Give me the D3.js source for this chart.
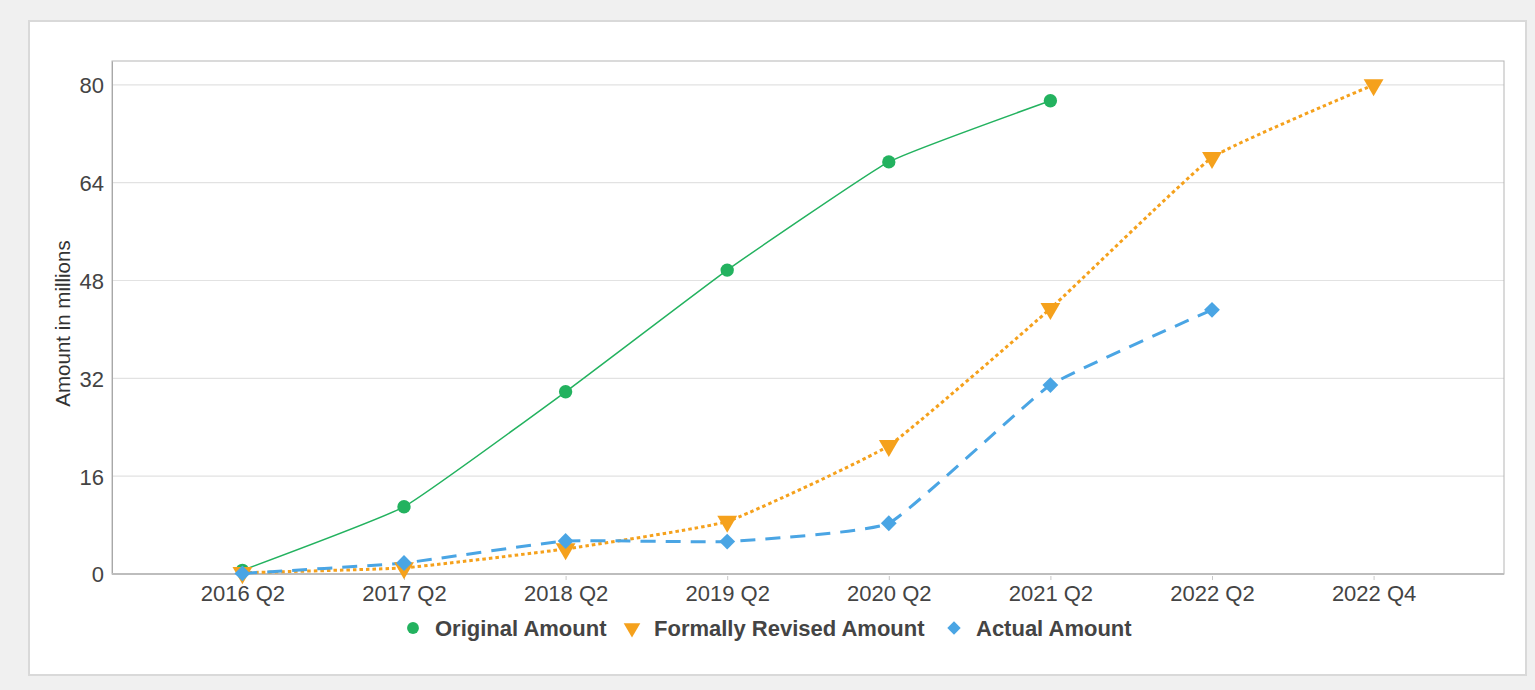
<!DOCTYPE html>
<html><head><meta charset="utf-8">
<script src="https://cdn.jsdelivr.net/npm/d3@7"></script>
<style>
html,body{margin:0;padding:0;background:#f0f0f0;}
svg{display:block;font-family:"Liberation Sans",Arial,sans-serif;}
</style></head>
<body><svg id="c" width="1535" height="690"></svg>
<script>
const categories = ["2016 Q2","2017 Q2","2018 Q2","2019 Q2","2020 Q2","2021 Q2","2022 Q2","2022 Q4"];
const original = [0.6, 11.0, 29.8, 49.7, 67.4, 77.4, null, null];
const revised  = [0.2, 1.0, 4.1, 8.6, 21.0, 43.4, 68.1, 80.0];
const actual   = [0.1, 1.8, 5.4, 5.3, 8.3, 30.9, 43.2, null];
const yTicks = [0, 16, 32, 48, 64, 80];
const seriesNames = ["Original Amount", "Formally Revised Amount", "Actual Amount"];

const svg = d3.select("#c");
svg.append("rect").attr("x",5).attr("y",4).attr("width",1530).attr("height",686).attr("fill","#f0f0f0");
svg.append("rect").attr("x",29).attr("y",21).attr("width",1497).attr("height",654)
  .attr("fill","#fff").attr("stroke","#d9d9d9").attr("stroke-width",2);

const L=112,T=61,R=1504,B=574;
const x = d3.scalePoint().domain(categories).range([L,R]).padding(0.807);
const y = d3.scaleLinear().domain([0,83.9]).range([B,T]);

// grid
svg.append("g").selectAll("line").data(yTicks.filter(d=>d>0)).join("line")
  .attr("x1",L).attr("x2",R).attr("y1",d=>y(d)).attr("y2",d=>y(d))
  .attr("stroke","#e2e2e2").attr("stroke-width",1.2);

// frame
svg.append("rect").attr("x",L).attr("y",T).attr("width",R-L).attr("height",B-T)
  .attr("fill","none").attr("stroke","#b5b5b5").attr("stroke-width",1);

// y axis
const ya = svg.append("g").attr("transform",`translate(${L},0)`)
  .call(d3.axisLeft(y).tickValues(yTicks).tickSize(0).tickPadding(8));
ya.select(".domain").attr("stroke","#a8a8a8");
ya.selectAll("text").attr("font-size",22).attr("fill","#444").attr("dy","0.36em").attr("font-family","Liberation Sans, Arial, sans-serif");

// x axis
const xa = svg.append("g").attr("transform",`translate(0,${B})`)
  .call(d3.axisBottom(x).tickSize(4).tickPadding(7).tickSizeOuter(0));
xa.select(".domain").attr("stroke","#bdbdbd").attr("stroke-width",2).attr("d",`M${L},0H${R}`);
xa.selectAll(".tick line").attr("stroke","#c8c8c8").attr("transform","translate(0,2)");
xa.selectAll("text").attr("font-size",22).attr("fill","#444").attr("font-family","Liberation Sans, Arial, sans-serif");

svg.append("text").attr("transform",`translate(70,${(T+B)/2+6}) rotate(-90)`)
  .attr("text-anchor","middle").attr("font-size",20.5).attr("fill","#333").text("Amount in millions");

const colors = ["#23b25f","#f5a11c","#4aa5e4"];
const dashes = [null,"3.5,3","15,10"];
const widths = [1.5,3,3];
const data = [original, revised, actual];
const line = d3.line().defined(d=>d.v!=null).x(d=>x(d.c)).y(d=>y(d.v)).curve(d3.curveCardinal.tension(0.65));

const sym = [d3.symbol().type(d3.symbolCircle).size(140),
             d3.symbol().type(d3.symbolTriangle).size(170),
             d3.symbol().type(d3.symbolSquare).size(125)];
const rot = [0,180,45];

data.forEach((arr,i)=>{
  const pts = arr.map((v,j)=>({c:categories[j],v})).filter(d=>d.v!=null);
  svg.append("path").attr("d",line(pts)).attr("fill","none").attr("stroke",colors[i])
    .attr("stroke-width",widths[i]).attr("stroke-dasharray",dashes[i]);
});
data.forEach((arr,i)=>{
  const pts = arr.map((v,j)=>({c:categories[j],v})).filter(d=>d.v!=null);
  svg.append("g").selectAll("path").data(pts).join("path")
    .attr("d",sym[i]()).attr("fill",colors[i])
    .attr("transform",d=>`translate(${x(d.c)},${y(d.v)}) rotate(${rot[i]})`);
});

// legend
const lg = svg.append("g");
const legX = [413, 632, 954];
const legSym = [d3.symbol().type(d3.symbolCircle).size(110),
                d3.symbol().type(d3.symbolTriangle).size(120),
                d3.symbol().type(d3.symbolSquare).size(90)];
seriesNames.forEach((n,i)=>{
  lg.append("path").attr("d",legSym[i]()).attr("fill",colors[i])
    .attr("transform",`translate(${legX[i]},628) rotate(${rot[i]})`);
  lg.append("text").attr("x",legX[i]+22).attr("y",636).attr("font-size",22).attr("font-weight","bold")
    .attr("fill","#444").text(n);
});
</script></body></html>
